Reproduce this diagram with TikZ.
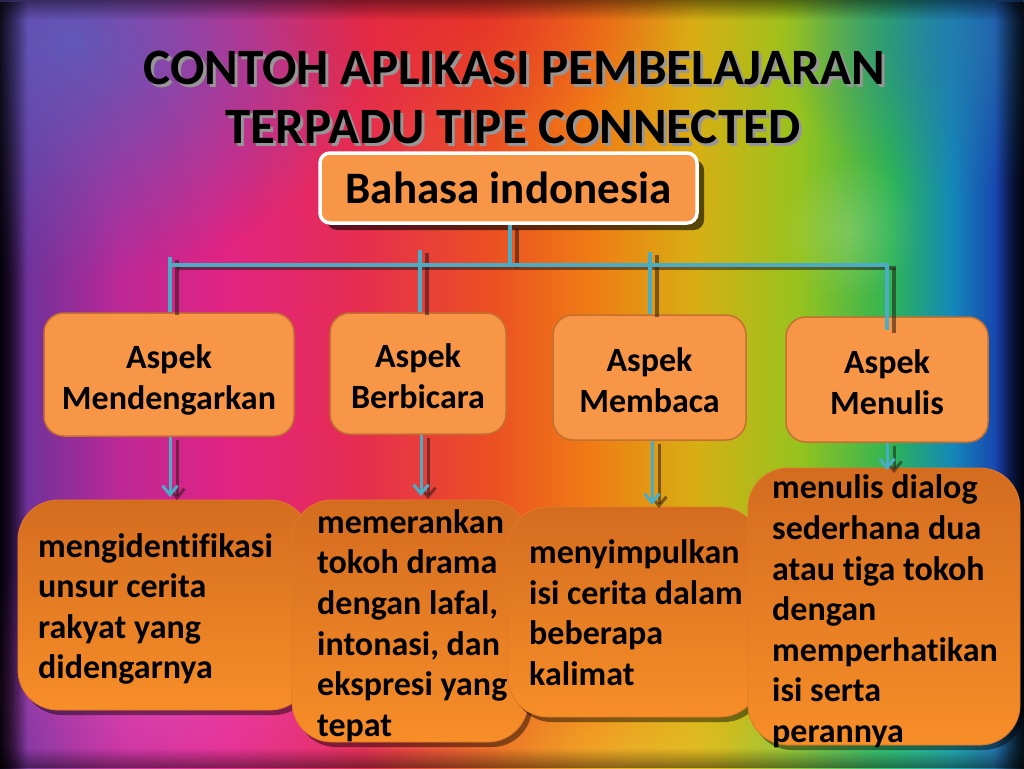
\documentclass[tikz,border=0pt]{standalone}
\usepackage{fontspec}
\setmainfont{Carlito}[Ligatures={NoCommon}]
\usetikzlibrary{arrows.meta,shadows,fadings}

\definecolor{bgA}{RGB}{30,10,50}
\definecolor{bgB}{RGB}{110,50,155}
\definecolor{bgC}{RGB}{190,40,150}
\definecolor{bgD}{RGB}{225,35,130}
\definecolor{bgE}{RGB}{230,45,80}
\definecolor{bgF}{RGB}{235,80,35}
\definecolor{bgG}{RGB}{240,125,20}
\definecolor{bgH}{RGB}{215,175,20}
\definecolor{bgI}{RGB}{150,195,30}
\definecolor{bgJ}{RGB}{45,180,85}
\definecolor{bgK}{RGB}{20,135,185}
\definecolor{bgL}{RGB}{25,65,175}
\definecolor{bgM}{RGB}{10,20,70}
\definecolor{tlglow}{RGB}{95,90,185}
\definecolor{pinkglow}{RGB}{240,90,200}
\definecolor{yellowglow}{RGB}{240,210,60}
\definecolor{cyanglow}{RGB}{60,220,170}
\definecolor{tealglow}{RGB}{40,120,170}
\definecolor{redglow}{RGB}{225,25,45}
\definecolor{boxorange}{RGB}{247,150,70}
\definecolor{aspectborder}{RGB}{196,112,48}
\definecolor{btop}{RGB}{212,108,32}
\definecolor{bbot}{RGB}{247,142,40}
\definecolor{bborder}{RGB}{225,120,40}
\definecolor{lineblue}{RGB}{75,172,198}
\definecolor{shadowdark}{RGB}{40,25,20}
\definecolor{titlegray}{RGB}{150,150,150}

\pgfdeclarehorizontalshading{rainbow}{100bp}{
  color(0bp)=(bgA); color(25bp)=(bgA); color(26.2bp)=(bgB);
  color(31bp)=(bgC); color(36bp)=(bgD); color(42.5bp)=(bgE);
  color(49bp)=(bgF); color(54bp)=(bgG); color(59bp)=(bgH);
  color(64bp)=(bgI); color(68.5bp)=(bgJ); color(71.5bp)=(bgK);
  color(73.8bp)=(bgL); color(75bp)=(bgM); color(100bp)=(bgM)}

\tikzfading[name=softglow, inner color=transparent!0, outer color=transparent!100]
\tikzfading[name=fadeR, left color=transparent!0, right color=transparent!100]
\tikzfading[name=fadeL, left color=transparent!100, right color=transparent!0]
\tikzfading[name=fadeD, top color=transparent!0, bottom color=transparent!100]
\tikzfading[name=fadeU, top color=transparent!100, bottom color=transparent!0]

\newcommand{\shadowed}[1]{\rlap{\hspace*{3pt}\raisebox{-3pt}[0pt][0pt]{\textcolor{titlegray}{#1}}}#1}

\begin{document}
\begin{tikzpicture}[x=1pt,y=-1pt,
  titletext/.style={font=\fontsize{51}{60}\selectfont\bfseries, text=black, inner sep=0pt},
  topbox/.style={draw=white, line width=3.5pt, fill=boxorange, rounded corners=10pt,
    minimum width=377pt, minimum height=70pt, inner sep=0pt,
    font=\fontsize{45}{54}\selectfont\bfseries,
    drop shadow={shadow xshift=7pt, shadow yshift=-7pt, opacity=.6, fill=black}},
  aspect/.style={draw=aspectborder, line width=1.5pt, fill=boxorange, rounded corners=20pt, inner sep=0pt},
  aspecttext/.style={align=center, inner sep=0pt, font=\fontsize{34}{41}\selectfont\bfseries},
  bottombox/.style={draw=bborder, line width=0.8pt, rounded corners=40pt, top color=btop, bottom color=bbot,
    inner sep=0pt,
    drop shadow={shadow xshift=4pt, shadow yshift=-5pt, opacity=.45, fill=black}},
  btext/.style={anchor=west, align=left, inner sep=0pt, font=\fontsize{34}{40.6}\selectfont\bfseries},
  conn/.style={draw=lineblue, line width=3.5pt},
  connsh/.style={draw=shadowdark, line width=3.5pt, opacity=.55, transform canvas={shift={(7pt,-3pt)}}},
  arr/.style={draw=lineblue, line width=3pt, -{Straight Barb[length=9pt,width=15pt]}},
  arrsh/.style={draw=shadowdark, line width=3pt, opacity=.55, -{Straight Barb[length=9pt,width=15pt]}, transform canvas={shift={(7pt,-3pt)}}}
]
\useasboundingbox (0,0) rectangle (1024,768);

% ---------- background ----------
\shade[shading=rainbow] (0,0) rectangle (1024,768);
\fill[tlglow, path fading=softglow, opacity=.95] (70,40) ellipse (300 and 240);
\fill[redglow, path fading=softglow, opacity=.5] (470,10) ellipse (220 and 120);
\fill[tealglow, path fading=softglow, opacity=.7] (960,40) ellipse (180 and 150);
\fill[pinkglow, path fading=softglow, opacity=.55] (170,690) ellipse (260 and 150);
\fill[yellowglow, path fading=softglow, opacity=.55] (620,770) ellipse (260 and 120);
\fill[cyanglow, path fading=softglow, opacity=.55] (920,770) ellipse (200 and 120);
\fill[white, path fading=softglow, opacity=.18] (850,230) circle (70);
\fill[black, path fading=fadeR, opacity=.8] (0,0) rectangle (28,768);
\fill[black, path fading=fadeL, opacity=.8] (994,0) rectangle (1024,768);
\fill[black, path fading=fadeD, opacity=.45] (0,0) rectangle (1024,20);
\fill[black, path fading=fadeU, opacity=.45] (0,748) rectangle (1024,768);

% ---------- title ----------
\node[titletext] (title1) at (514,68) {\shadowed{CONTOH APLIKASI PEMBELAJARAN}};
\node[titletext] (title2) at (513,127) {\shadowed{TERPADU TIPE CONNECTED}};

% ---------- boxes ----------
\node[topbox] (top) at (508.5,188) {Bahasa indonesia};

\node[aspect, minimum width=250pt, minimum height=123pt] (a1) at (169,374.5) {};
\node[aspecttext] (l1) at (169,380) {Aspek\\Mendengarkan};
\node[aspect, minimum width=176pt, minimum height=121pt] (a2) at (418,373.5) {};
\node[aspecttext] (l2) at (418,376) {Aspek\\Berbicara};
\node[aspect, minimum width=193pt, minimum height=125pt] (a3) at (649.5,377.5) {};
\node[aspecttext] (l3) at (649.5,380) {Aspek\\Membaca};
\node[aspect, minimum width=202pt, minimum height=125pt] (a4) at (887,379.5) {};
\node[aspecttext] (l4) at (887,382.5) {Aspek\\Menulis};

% ---------- tree connectors ----------
\coordinate (j0) at (510,265);
\coordinate (hl) at (170,265);
\coordinate (hr) at (889,265);
\coordinate (s1) at (170,257);
\coordinate (s2) at (420,250);
\coordinate (s3) at (650,252);
\coordinate (s4) at (887,265);
\coordinate (e4) at (887,330);

\foreach \st in {connsh,conn}{
  \draw[\st] (top.south -| j0) -- (j0);
  \draw[\st] (hl) -- (hr);
  \draw[\st] (s1) -- (s1 |- a1.north);
  \draw[\st] (s2) -- (s2 |- a2.north);
  \draw[\st] (s3) -- (s3 |- a3.north);
  \draw[\st] (s4) -- (e4);
}

% ---------- bottom boxes ----------
\node[bottombox, minimum width=292pt, minimum height=210pt] (b1) at (164,605) {};
\node[btext] (t1) at (38,609) {mengidentifikasi\\unsur cerita\\rakyat yang\\didengarnya};
\node[bottombox, minimum width=236pt, minimum height=242pt] (b2) at (410,621) {};
\node[btext] (t2) at (317,625.5) {memerankan\\tokoh drama\\dengan lafal,\\intonasi, dan\\ekspresi yang\\tepat};
\node[bottombox, minimum width=252pt, minimum height=210pt] (b3) at (634,612) {};
\node[btext] (t3) at (529,612.5) {menyimpulkan\\isi cerita dalam\\beberapa\\kalimat};
\node[bottombox, minimum width=272pt, minimum height=277pt] (b4) at (884,606.5) {};
\node[btext] (t4) at (772,611.5) {menulis dialog\\sederhana dua\\atau tiga tokoh\\dengan\\memperhatikan\\isi serta\\perannya};

% ---------- arrows ----------
\coordinate (e1) at (170,497);
\coordinate (e2) at (421,496);
\coordinate (e3) at (652,505);
\coordinate (e5) at (887,470);
\foreach \st in {arrsh,arr}{
  \draw[\st] (a1.south -| e1) -- (e1);
  \draw[\st] (a2.south -| e2) -- (e2);
  \draw[\st] (a3.south -| e3) -- (e3);
  \draw[\st] (a4.south -| e5) -- (e5);
}
\end{tikzpicture}
\end{document}
